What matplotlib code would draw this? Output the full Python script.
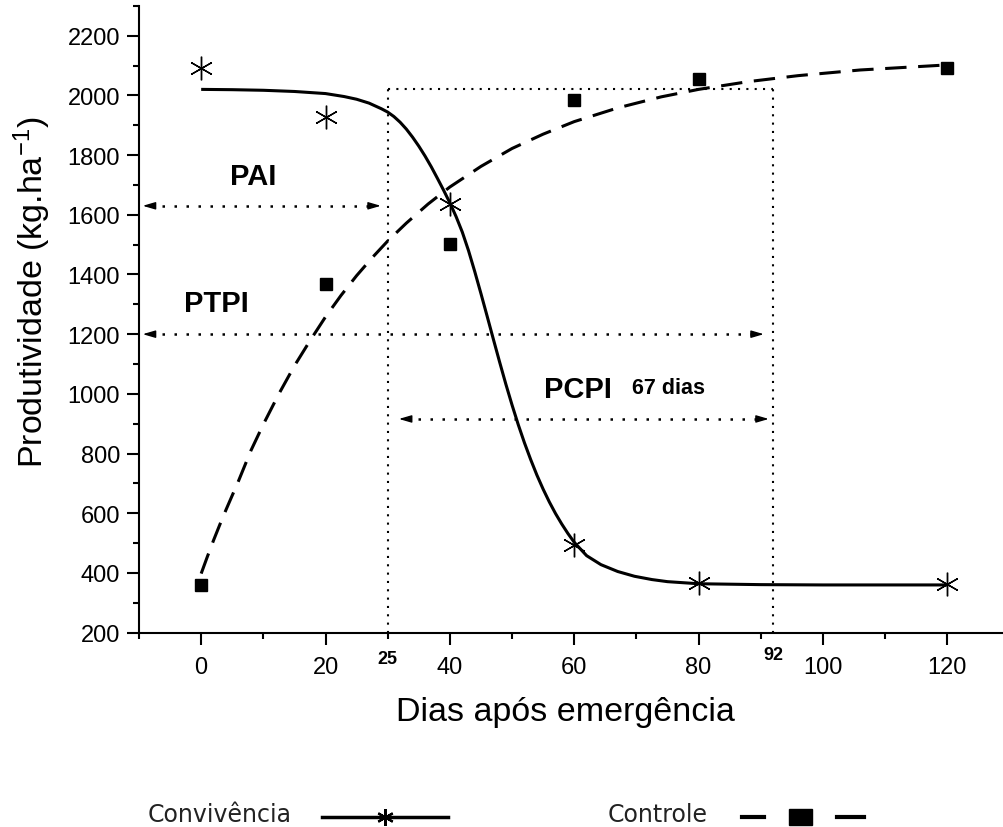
import matplotlib
matplotlib.use("Agg")
import matplotlib.pyplot as plt
from matplotlib.ticker import MultipleLocator, FixedLocator
from matplotlib.lines import Line2D
from matplotlib.patches import Rectangle

plt.rcParams['font.family'] = ['Liberation Sans', 'DejaVu Sans']
plt.rcParams['mathtext.default'] = 'regular'

# ---------------- data ----------------
days = [0, 20, 40, 60, 80, 120]
conv_obs = [2092, 1928, 1635, 495, 368, 362]
ctrl_obs = [360, 1368, 1503, 1983, 2054, 2092]

# fitted curves, values
conv_fit_x = [0, 5, 10, 15, 20, 23, 25, 27, 29, 30, 31, 32, 33, 34, 35, 36, 37, 38, 39,
              40, 41, 42, 43, 44, 45, 46, 47, 48, 49, 50, 51, 52, 53, 54, 55, 56, 57,
              58, 59, 60, 62, 64.3, 67, 69.7, 72.5, 75, 80, 90, 100, 120]
conv_fit_y = [2020, 2019, 2017, 2013, 2006, 1996, 1987, 1974, 1955, 1944, 1929, 1910,
              1887, 1860, 1830, 1797, 1761, 1722, 1682, 1640, 1594, 1542, 1480, 1410,
              1336, 1260, 1183, 1107, 1033, 963, 897, 836, 780, 728, 681, 638, 599,
              564, 532, 503, 458, 428, 405, 389, 378, 371, 364, 361, 360, 360]
ctrl_fit_x = [0, 1, 2, 3, 4, 6, 8, 10, 12.5, 15, 17.5, 20, 22.5, 25, 27.5, 30, 33,
              36.5, 40, 45, 50, 55, 60, 67, 74, 80, 88, 96, 106, 120]
ctrl_fit_y = [398, 455, 510, 562, 612, 708, 810, 898, 1000, 1094, 1178, 1258, 1330,
              1396, 1456, 1512, 1572, 1636, 1693, 1762, 1822, 1870, 1912, 1958, 1995,
              2020, 2046, 2066, 2085, 2102]

# critical periods
pai_end = 30        # drawn position of the "25" line
pcpi_end = 92
rect_top = 2020
pai_y, ptpi_y, pcpi_y = 1630, 1200, 916

x_major = [0, 20, 40, 60, 80, 100, 120]
y_major = list(range(200, 2201, 200))

# ---------------- figure ----------------
W, H = 1004, 828
fig = plt.figure(figsize=(W / 100, H / 100), dpi=100)
fx = lambda px: px / W
fy = lambda py: 1 - py / H

ax = fig.add_axes([fx(139), fy(633.7), 870.4 / W, 626.9 / H])
ax.set_xlim(-10, 130)
ax.set_ylim(200, 2300)
for s in ['top', 'right']:
    ax.spines[s].set_visible(False)
for s in ['left', 'bottom']:
    ax.spines[s].set_linewidth(1.5)

ax.set_xticks(x_major)
ax.xaxis.set_minor_locator(MultipleLocator(10))
ax.set_yticks(y_major)
ax.yaxis.set_minor_locator(FixedLocator(list(range(300, 2301, 200))))
ax.tick_params(which='major', direction='out', length=8.5, width=1.5, labelsize=17, pad=5)
ax.tick_params(axis='x', which='major', pad=8)
ax.tick_params(which='minor', direction='out', length=4.5, width=1.5)

# rectangle of the critical period (dotted)
dot_kw = dict(color='black', lw=1.5, linestyle=(0, (1, 3)))
ax.plot([pai_end, pai_end], [200, rect_top], **dot_kw)
ax.plot([pcpi_end, pcpi_end], [200, rect_top], **dot_kw)
ax.plot([pai_end, pcpi_end], [rect_top, rect_top], **dot_kw)

# arrows
def darrow(x0, x1, y):
    ax.plot([x0 + 1.2, x1 - 1.2], [y, y], color='black', lw=1.8, linestyle=(0, (1, 3.8)))
    hk = dict(arrowstyle='-|>,head_length=0.75,head_width=0.22', color='black',
              lw=1.0, shrinkA=0, shrinkB=0)
    ax.annotate('', xy=(x0, y), xytext=(x0 + 2.0, y), arrowprops=hk)
    ax.annotate('', xy=(x1, y), xytext=(x1 - 2.0, y), arrowprops=hk)

darrow(-9.4, 28.9, pai_y)
darrow(-9.4, 90.5, ptpi_y)
darrow(31.8, 91.3, pcpi_y)

# curves
ax.plot(conv_fit_x, conv_fit_y, color='black', lw=2.2, solid_capstyle='butt',
        solid_joinstyle='round')
ax.plot(ctrl_fit_x, ctrl_fit_y, color='black', lw=2.2, linestyle=(0, (7, 3.8)))

# observations
ax.plot(days, conv_obs, linestyle='none', marker=(6, 2, 0), markersize=17,
        markeredgewidth=1.0, color='black')
ax.plot(days, ctrl_obs, linestyle='none', marker='s', markersize=8.5, color='black')

# labels on plot
ax.text(8.3, 1730, 'PAI', fontsize=21, fontweight='bold', ha='center', va='center')
ax.text(2.5, 1305, 'PTPI', fontsize=21, fontweight='bold', ha='center', va='center')
ax.text(60.6, 1016, 'PCPI', fontsize=21, fontweight='bold', ha='center', va='center')
ax.text(75.1, 1023, '67 dias', fontsize=15.5, fontweight='bold', ha='center', va='center')

tr = ax.get_xaxis_transform()
ax.text(pai_end, -0.041, '25', transform=tr, fontsize=13, fontweight='bold',
        ha='center', va='center')
ax.text(pcpi_end, -0.034, '92', transform=tr, fontsize=13, fontweight='bold',
        ha='center', va='center')

# axis titles
fig.text(fx(565), fy(712), 'Dias após emergência', fontsize=24.5, ha='center', va='center')
fig.text(fx(32), fy(292), 'Produtividade (kg.ha$^{-1}$)', fontsize=24.5, rotation=90,
         ha='center', va='center')

# legend (manual, below the plot)
leg_font = dict(family='DejaVu Sans', fontsize=17, color='#222222', va='center')
fig.text(fx(148), fy(815), 'Convivência', ha='left', **leg_font)
fig.add_artist(Line2D([fx(322), fx(448)], [fy(818), fy(818)], color='black', lw=2.5,
                      transform=fig.transFigure))
fig.add_artist(Line2D([fx(385)], [fy(818)], marker=(6, 2, 0), markersize=12,
                      markeredgewidth=1.6, color='black', linestyle='none',
                      transform=fig.transFigure))
fig.text(fx(608), fy(815), 'Controle', ha='left', **leg_font)
for a, b in [(742, 764), (837, 864)]:
    fig.add_artist(Line2D([fx(a), fx(b)], [fy(818), fy(818)], color='black', lw=3,
                          transform=fig.transFigure))
fig.add_artist(Rectangle((fx(789), fy(826)), 23 / W, 16 / H, color='black',
                         transform=fig.transFigure))

fig.savefig('out.png', dpi=100)
